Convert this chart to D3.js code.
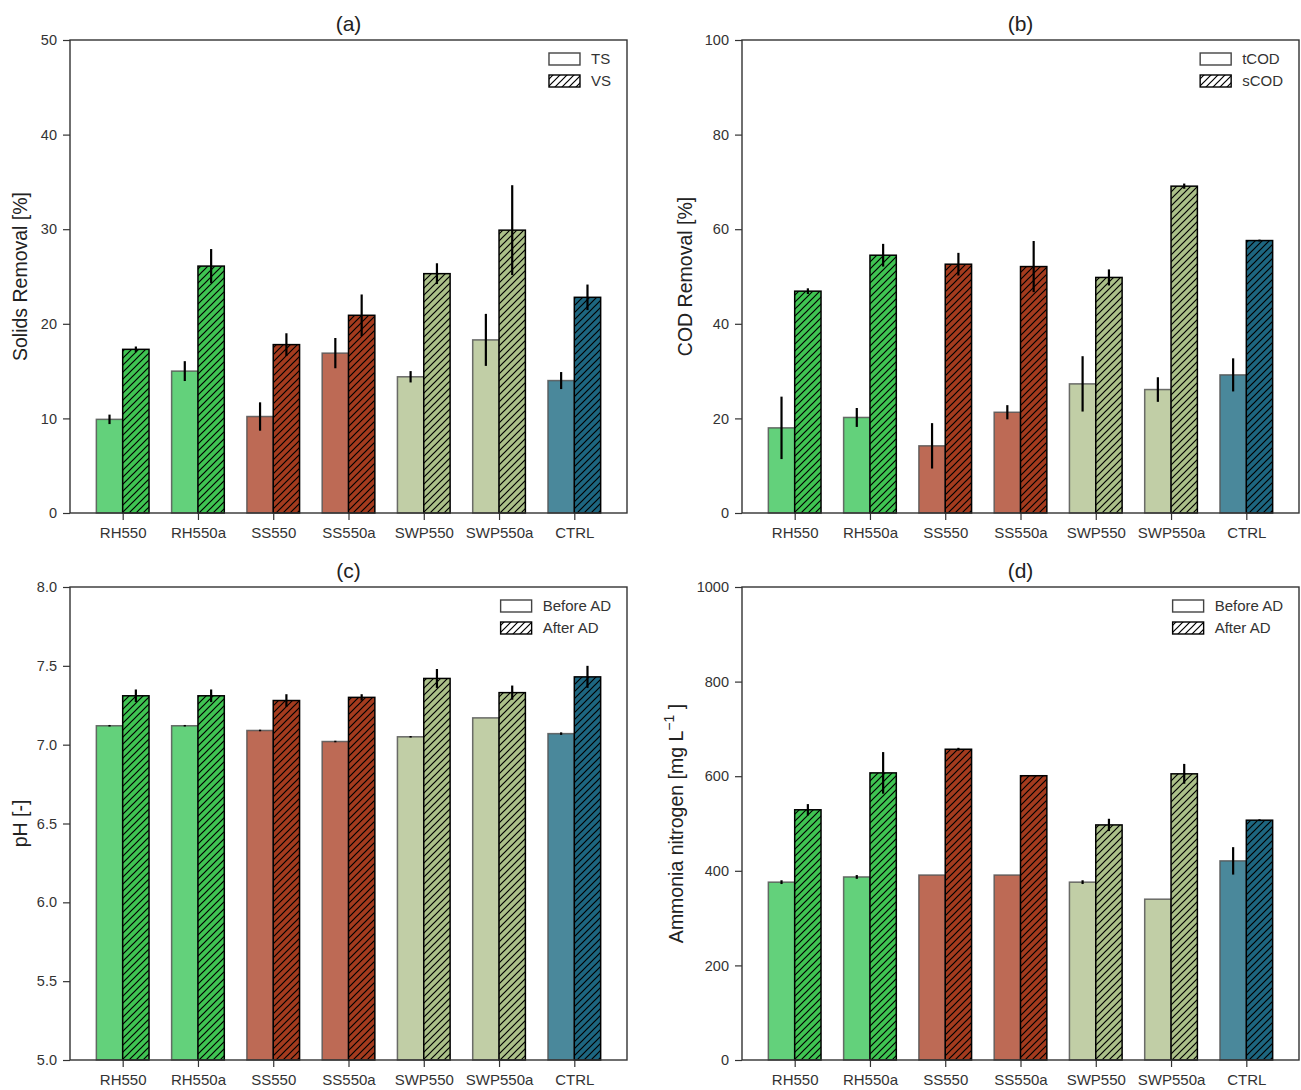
<!DOCTYPE html>
<html>
<head>
<meta charset="utf-8">
<script src="https://cdn.jsdelivr.net/npm/d3@7"></script>
<style>
  body { margin: 0; background: #fff; }
  svg { display: block; font-family: "Liberation Sans", Arial, sans-serif; }
</style>
</head>
<body>
<svg id="chart" width="1301" height="1090"></svg>
<script>
// Categories
const categories = ['RH550', 'RH550a', 'SS550', 'SS550a', 'SWP550', 'SWP550a', 'CTRL'];

// Bar colours per category: plain bar, hatched bar
const plainColors = ['#63d17b', '#63d17b', '#bd6a55', '#bd6a55', '#c1cea6', '#c1cea6', '#4a889b'];
const hatchColors = ['#3fc452', '#3fc452', '#a43b1e', '#a43b1e', '#abc089', '#abc089', '#1d6680'];

// (a) Solids removal [%]
const tsRemoval = [9.9, 15.0, 10.2, 16.9, 14.4, 18.3, 14.0];
const tsErr = [0.5, 1.05, 1.5, 1.6, 0.6, 2.75, 0.9];
const vsRemoval = [17.3, 26.1, 17.8, 20.9, 25.3, 29.9, 22.8];
const vsErr = [0.3, 1.8, 1.2, 2.2, 1.1, 4.75, 1.35];

// (b) COD removal [%]
const tcodRemoval = [18.0, 20.2, 14.2, 21.3, 27.3, 26.1, 29.2];
const tcodErr = [6.6, 2.0, 4.8, 1.5, 5.85, 2.6, 3.5];
const scodRemoval = [46.9, 54.5, 52.6, 52.1, 49.8, 69.1, 57.6];
const scodErr = [0.6, 2.4, 2.4, 5.4, 1.7, 0.55, 0.2];

// (c) pH
const phBefore = [7.12, 7.12, 7.09, 7.02, 7.05, 7.17, 7.07];
const phBeforeErr = [0.005, 0.005, 0.005, 0.005, 0.005, 0, 0.008];
const phAfter = [7.31, 7.31, 7.28, 7.30, 7.42, 7.33, 7.43];
const phAfterErr = [0.04, 0.04, 0.04, 0.02, 0.06, 0.045, 0.07];

// (d) Ammonia nitrogen [mg/L]
const nh4Before = [376, 387, 391, 391, 376, 340, 421];
const nh4BeforeErr = [4, 4, 0, 0, 4, 0, 29];
const nh4After = [529, 607, 657, 601, 497, 605, 507];
const nh4AfterErr = [12, 44, 3, 1, 13, 21, 2];

// Axis ticks
const ticksA = [0, 10, 20, 30, 40, 50];
const ticksB = [0, 20, 40, 60, 80, 100];
const ticksC = [5.0, 5.5, 6.0, 6.5, 7.0, 7.5, 8.0];
const ticksD = [0, 200, 400, 600, 800, 1000];

const BAR_WIDTH = 0.35;
const AXIS_COLOR = '#333';
const TEXT_COLOR = '#333';
const FONT = '"Liberation Sans", Arial, sans-serif';

const svg = d3.select('#chart');

// Hatch patterns, one per hatched colour
const defs = svg.append('defs');
function hatchId(color) { return 'hatch-' + color.replace('#', ''); }
Array.from(new Set(hatchColors.concat(['#ffffff']))).forEach(function(c) {
  const p = defs.append('pattern')
      .attr('id', hatchId(c))
      .attr('patternUnits', 'userSpaceOnUse')
      .attr('width', 7).attr('height', 7);
  p.append('rect').attr('width', 7).attr('height', 7).attr('fill', c);
  p.append('path')
      .attr('d', 'M-1,1 l2,-2 M0,7 l7,-7 M6,8 l2,-2')
      .attr('stroke', '#000').attr('stroke-width', 1.2);
});

const panels = [
  {title: '(a)', x: 70, y: 40, domain: [0, 50], ticks: ticksA, fmt: d3.format('d'),
   ylabel: 'Solids Removal [%]', labelX: 27,
   a: tsRemoval, aErr: tsErr, b: vsRemoval, bErr: vsErr, legend: ['TS', 'VS']},
  {title: '(b)', x: 742, y: 40, domain: [0, 100], ticks: ticksB, fmt: d3.format('d'),
   ylabel: 'COD Removal [%]', labelX: 692,
   a: tcodRemoval, aErr: tcodErr, b: scodRemoval, bErr: scodErr, legend: ['tCOD', 'sCOD']},
  {title: '(c)', x: 70, y: 587, domain: [5, 8], ticks: ticksC, fmt: d3.format('.1f'),
   ylabel: 'pH [-]', labelX: 27,
   a: phBefore, aErr: phBeforeErr, b: phAfter, bErr: phAfterErr, legend: ['Before AD', 'After AD']},
  {title: '(d)', x: 742, y: 587, domain: [0, 1000], ticks: ticksD, fmt: d3.format('d'),
   ylabel: null, labelX: 683,
   a: nh4Before, aErr: nh4BeforeErr, b: nh4After, bErr: nh4AfterErr, legend: ['Before AD', 'After AD']}
];

const PW = 557, PH = 473;

panels.forEach(function(p) {
  const g = svg.append('g').attr('transform', 'translate(' + p.x + ',' + p.y + ')');
  const x = d3.scaleLinear().domain([-0.7, 6.7]).range([0, PW]);
  const y = d3.scaleLinear().domain(p.domain).range([PH, 0]);

  // Bars
  const series = [
    {vals: p.a, errs: p.aErr, off: -BAR_WIDTH / 2, hatched: false},
    {vals: p.b, errs: p.bErr, off: BAR_WIDTH / 2, hatched: true}
  ];
  series.forEach(function(s) {
    g.selectAll(null).data(s.vals).enter().append('rect')
        .attr('x', function(d, i) { return x(i + s.off - BAR_WIDTH / 2); })
        .attr('width', x(BAR_WIDTH) - x(0))
        .attr('y', function(d) { return y(d); })
        .attr('height', function(d) { return y(p.domain[0]) - y(d); })
        .attr('fill', function(d, i) {
          return s.hatched ? 'url(#' + hatchId(hatchColors[i]) + ')' : plainColors[i];
        })
        .attr('stroke', s.hatched ? '#000' : '#555')
        .attr('stroke-opacity', s.hatched ? 1 : 0.85)
        .attr('stroke-width', 1.5);
  });
  series.forEach(function(s) {
    g.selectAll(null).data(s.vals).enter().append('line')
        .attr('x1', function(d, i) { return x(i + s.off); })
        .attr('x2', function(d, i) { return x(i + s.off); })
        .attr('y1', function(d, i) { return y(d - s.errs[i]); })
        .attr('y2', function(d, i) { return y(d + s.errs[i]); })
        .attr('stroke', '#000').attr('stroke-width', 2.2);
  });

  // Axes
  const yAxis = g.append('g')
      .call(d3.axisLeft(y).tickValues(p.ticks).tickFormat(p.fmt).tickSize(7).tickPadding(6));
  const xAxis = g.append('g').attr('transform', 'translate(0,' + PH + ')')
      .call(d3.axisBottom(x).tickValues(d3.range(categories.length))
          .tickFormat(function(i) { return categories[i]; }).tickSize(7).tickPadding(7));
  [yAxis, xAxis].forEach(function(ax) {
    ax.select('.domain').remove();
    ax.selectAll('.tick line').attr('stroke', AXIS_COLOR).attr('stroke-width', 1.2);
    ax.selectAll('.tick text').attr('fill', TEXT_COLOR).style('font-family', FONT);
  });
  yAxis.selectAll('.tick text').style('font-size', '14.5px');
  xAxis.selectAll('.tick text').style('font-size', '15px');

  // Frame
  g.append('rect').attr('width', PW).attr('height', PH)
      .attr('fill', 'none').attr('stroke', AXIS_COLOR).attr('stroke-width', 1.4);

  // Title
  g.append('text').attr('x', PW / 2).attr('y', -9)
      .attr('text-anchor', 'middle').attr('fill', '#222')
      .style('font-size', '21px').text(p.title);

  // Y label
  const lab = svg.append('text')
      .attr('transform', 'translate(' + p.labelX + ',' + (p.y + PH / 2) + ') rotate(-90)')
      .attr('text-anchor', 'middle').attr('fill', '#222')
      .style('font-size', '19.5px');
  if (p.ylabel) {
    lab.text(p.ylabel);
  } else {
    lab.append('tspan').text('Ammonia nitrogen [mg L');
    lab.append('tspan').attr('dy', -9).style('font-size', '14px').text('\u22121');
    lab.append('tspan').attr('dy', 9).text(' ]');
  }

  // Legend, right-aligned inside the frame
  const lg = g.append('g');
  const labels = p.legend.map(function(name, k) {
    return lg.append('text').attr('y', 13 + k * 22 + 11)
        .attr('fill', TEXT_COLOR).style('font-size', '15px').text(name);
  });
  const maxW = d3.max(labels, function(t) { return t.node().getComputedTextLength(); });
  const textX = PW - 16 - maxW;
  labels.forEach(function(t, k) {
    t.attr('x', textX);
    lg.append('rect').attr('x', textX - 42).attr('y', 13 + k * 22).attr('width', 31).attr('height', 12)
        .attr('fill', k ? 'url(#' + hatchId('#ffffff') + ')' : '#fff')
        .attr('stroke', k ? '#000' : '#444').attr('stroke-width', 1.4);
  });
});
</script>
</body>
</html>
